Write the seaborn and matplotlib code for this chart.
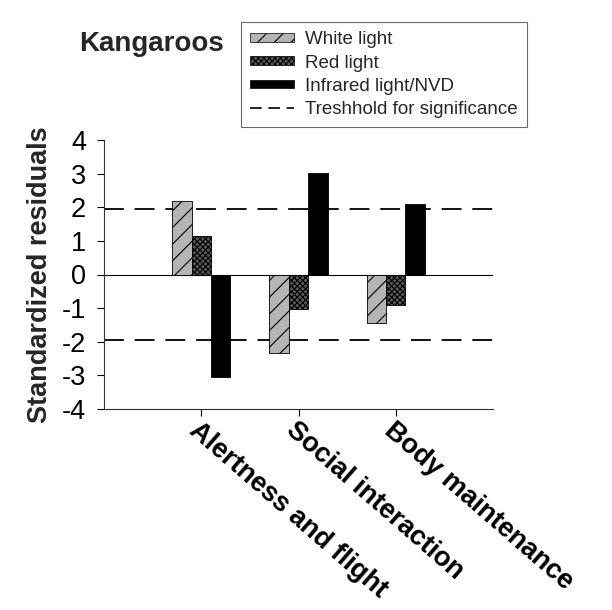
import matplotlib
matplotlib.use("Agg")
import matplotlib.pyplot as plt
import seaborn as sns
import pandas as pd
from matplotlib.patches import Patch
from matplotlib.lines import Line2D

behaviors = ["Alertness and flight", "Social interaction", "Body maintenance"]
lights = ["White light", "Red light", "Infrared light/NVD"]
white_vals = [2.18, -2.33, -1.45]
red_vals = [1.15, -1.02, -0.90]
infrared_vals = [-3.05, 3.02, 2.10]
threshold = 1.96
threshold_label = "Treshhold for significance"
yticks = [-4, -3, -2, -1, 0, 1, 2, 3, 4]

sns.set_theme(style="white")
plt.rcParams["font.family"] = ["Liberation Sans", "DejaVu Sans"]
plt.rcParams["hatch.linewidth"] = 0.8

rows = []
for light, vals in zip(lights, [white_vals, red_vals, infrared_vals]):
    for b, v in zip(behaviors, vals):
        rows.append({"behavior": b, "light": light, "value": v})
df = pd.DataFrame(rows)

colors = ["#b4b4b4", "#5a5a5a", "#000000"]
hatches = ["//", "xxxxxx", ""]

fig = plt.figure(figsize=(6.12, 6.10), dpi=100)
ax = fig.add_axes([104/612, 1-409/610, (493-104)/612, (409-140)/610])

sns.barplot(data=df, x="behavior", y="value", hue="light", order=behaviors,
            hue_order=lights, palette=colors, width=0.6, edgecolor="black",
            linewidth=0.6, legend=False, ax=ax, saturation=1)

for cont, h in zip(ax.containers, hatches):
    for bar in cont:
        bar.set_hatch(h)

ax.axhline(0, color="black", linewidth=0.8, zorder=0)
ax.axhline(threshold, color="black", linewidth=1.3, linestyle=(0, (11, 6)), zorder=0)
ax.axhline(-threshold, color="black", linewidth=1.3, linestyle=(0, (11, 6)), zorder=0)

ax.set_xlim(-1, 3)
ax.set_ylim(-4, 4)
ax.set_yticks(yticks)
ax.set_yticklabels([str(t) for t in yticks], fontsize=19.5)
ax.set_xlabel("")
ax.set_ylabel("Standardized residuals", fontsize=19.5, fontweight="bold", labelpad=6)
ax.set_xticks(range(len(behaviors)))
ax.set_xticklabels(behaviors, fontsize=19.5, fontweight="bold", rotation=-41,
                   ha="left", va="top", rotation_mode="anchor")
ax.tick_params(axis="both", direction="out", length=5, width=0.8, colors="black",
               left=True, bottom=True)
ax.tick_params(axis="y", pad=8)
ax.tick_params(axis="x", pad=1)
for s in ["top", "right"]:
    ax.spines[s].set_visible(False)
for s in ["left", "bottom"]:
    ax.spines[s].set_color("#333333")
    ax.spines[s].set_linewidth(0.8)

fig.text(79/612, 1-44/610, "Kangaroos", fontsize=20, fontweight="bold",
         ha="left", va="center")

handles = [Patch(facecolor=c, edgecolor="black", hatch=h, linewidth=0.5)
           for c, h in zip(colors, hatches)]
handles.append(Line2D([0], [0], color="black", linewidth=1.2, linestyle=(0, (7, 4))))
leg = fig.legend(handles, lights + [threshold_label], loc="upper left",
                 bbox_to_anchor=(241/612, 1-22/610), fontsize=13.5, frameon=True,
                 fancybox=False, edgecolor="#444444", handlelength=2.3,
                 handleheight=0.35, labelspacing=0.33, borderpad=0.5,
                 handletextpad=0.6, borderaxespad=0)
leg.get_frame().set_linewidth(0.8)

fig.savefig("out.png", dpi=100)
